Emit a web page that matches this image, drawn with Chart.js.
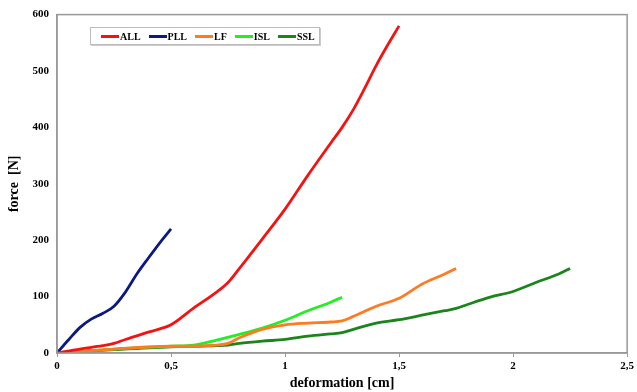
<!DOCTYPE html>
<html>
<head>
<meta charset="utf-8">
<script src="https://cdn.jsdelivr.net/npm/chart.js@4"></script>
<style>
    html, body { margin: 0; padding: 0; background: #fff; }
    #wrap { position: relative; width: 637px; height: 392px; }
    #legend {
        position: absolute; left: 90px; top: 27px; width: 230px; height: 18px;
        border: 1px solid #bbb; box-shadow: 1px 1px 0 #ccc; background: #fff;
        display: flex; align-items: center; padding-left: 10px; box-sizing: border-box;
        font: bold 10px "Liberation Serif", "Times New Roman", serif;
    }
    #legend .item { display: flex; align-items: center; margin-right: 8px; }
    #legend .swatch { width: 18px; height: 3px; margin-right: 1px; }
</style>
</head>
<body>
<div id="wrap">
    <canvas id="chart" width="637" height="392"></canvas>
    <div id="legend"></div>
</div>
<script>
// Series (x = deformation [cm], y = force [N])
const allX = [0, 0.1, 0.2, 0.25, 0.3, 0.4, 0.5, 0.6, 0.7, 0.75, 0.8, 0.9, 1.0, 1.1, 1.2, 1.25, 1.3, 1.35, 1.4, 1.45, 1.5];
const allY = [0, 7, 13, 17, 24, 37, 50, 80, 108, 125, 150, 202, 255, 315, 372, 400, 432, 470, 510, 546, 580];

const pllX = [0, 0.05, 0.1, 0.15, 0.2, 0.25, 0.3, 0.35, 0.4, 0.45, 0.5];
const pllY = [0, 23, 45, 60, 70, 83, 108, 140, 168, 195, 220];

const lfX = [0, 0.25, 0.5, 0.6, 0.7, 0.75, 0.8, 0.9, 1.0, 1.1, 1.2, 1.25, 1.3, 1.4, 1.5, 1.6, 1.7, 1.75];
const lfY = [0, 7, 12, 12, 14, 17, 27, 42, 50, 53, 55, 57, 65, 83, 97, 122, 140, 150];

const islX = [0, 0.25, 0.5, 0.6, 0.7, 0.8, 0.9, 1.0, 1.1, 1.2, 1.25];
const islY = [0, 7, 12, 14, 23, 33, 44, 58, 75, 90, 99];

const sslX = [0, 0.25, 0.5, 0.6, 0.7, 0.75, 0.8, 0.9, 1.0, 1.1, 1.2, 1.25, 1.3, 1.4, 1.5, 1.6, 1.7, 1.75, 1.8, 1.9, 2.0, 2.1, 2.2, 2.25];
const sslY = [0, 6, 11, 12, 13, 14, 17, 21, 24, 30, 34, 36, 42, 53, 59, 67, 75, 79, 86, 99, 109, 125, 140, 150];

const seriesNames = ['ALL', 'PLL', 'LF', 'ISL', 'SSL'];
const seriesColors = ['#f51212', '#0c1a80', '#ff7a20', '#22ee22', '#1b851b'];

const xTicks = [0, 0.5, 1, 1.5, 2, 2.5];
const yTicks = [0, 100, 200, 300, 400, 500, 600];

const toPoints = (xs, ys) => xs.map((x, i) => ({ x: x, y: ys[i] }));
const seriesData = [
    toPoints(allX, allY),
    toPoints(pllX, pllY),
    toPoints(lfX, lfY),
    toPoints(islX, islY),
    toPoints(sslX, sslY)
];

const serif = '"Liberation Serif", "Times New Roman", serif';
const tickFont = { family: serif, weight: 'bold', size: 11 };
const titleFont = { family: serif, weight: 'bold', size: 14 };

// Grey frame round the plot area
const frame = {
    id: 'frame',
    afterDraw(chart) {
        const a = chart.chartArea;
        const ctx = chart.ctx;
        ctx.save();
        ctx.strokeStyle = '#999';
        ctx.lineWidth = 1.5;
        ctx.strokeRect(a.left, a.top, a.right - a.left, a.bottom - a.top);
        ctx.restore();
    }
};

const chart = new Chart(document.getElementById('chart'), {
    type: 'scatter',
    data: {
        datasets: seriesNames.map((name, i) => ({
            label: name,
            data: seriesData[i],
            showLine: true,
            borderColor: seriesColors[i],
            backgroundColor: seriesColors[i],
            borderWidth: 2.8,
            pointRadius: 0,
            cubicInterpolationMode: 'monotone'
        }))
    },
    options: {
        responsive: false,
        animation: false,
        layout: { padding: { top: 12, right: 5 } },
        plugins: {
            legend: { display: false },
            tooltip: { enabled: false }
        },
        scales: {
            x: {
                type: 'linear',
                min: 0,
                max: 2.5,
                afterBuildTicks: axis => { axis.ticks = xTicks.map(v => ({ value: v })); },
                afterFit: axis => { axis.height = 39; },
                ticks: {
                    color: '#000',
                    font: tickFont,
                    padding: 3,
                    maxRotation: 0,
                    callback: v => String(v).replace('.', ',')
                },
                grid: { drawOnChartArea: false, color: '#999', tickLength: 4 },
                border: { color: '#999', width: 1.5 },
                title: { display: true, text: 'deformation [cm]', color: '#000', font: titleFont, padding: { top: 0, bottom: 0 } }
            },
            y: {
                min: 0,
                max: 600,
                afterBuildTicks: axis => { axis.ticks = yTicks.map(v => ({ value: v })); },
                afterFit: axis => { axis.width = 57; },
                ticks: { color: '#000', font: tickFont, padding: 8 },
                grid: { drawOnChartArea: false, drawTicks: false },
                border: { color: '#999', width: 1.5 },
                title: { display: true, text: 'force  [N]', color: '#000', font: titleFont, padding: { top: 6, bottom: 0 } }
            }
        }
    },
    plugins: [frame]
});

// HTML legend built from the datasets
document.getElementById('legend').innerHTML = chart.data.datasets.map(ds =>
    `<div class="item"><span class="swatch" style="background:${ds.borderColor}"></span>${ds.label}</div>`
).join('');
</script>
</body>
</html>
